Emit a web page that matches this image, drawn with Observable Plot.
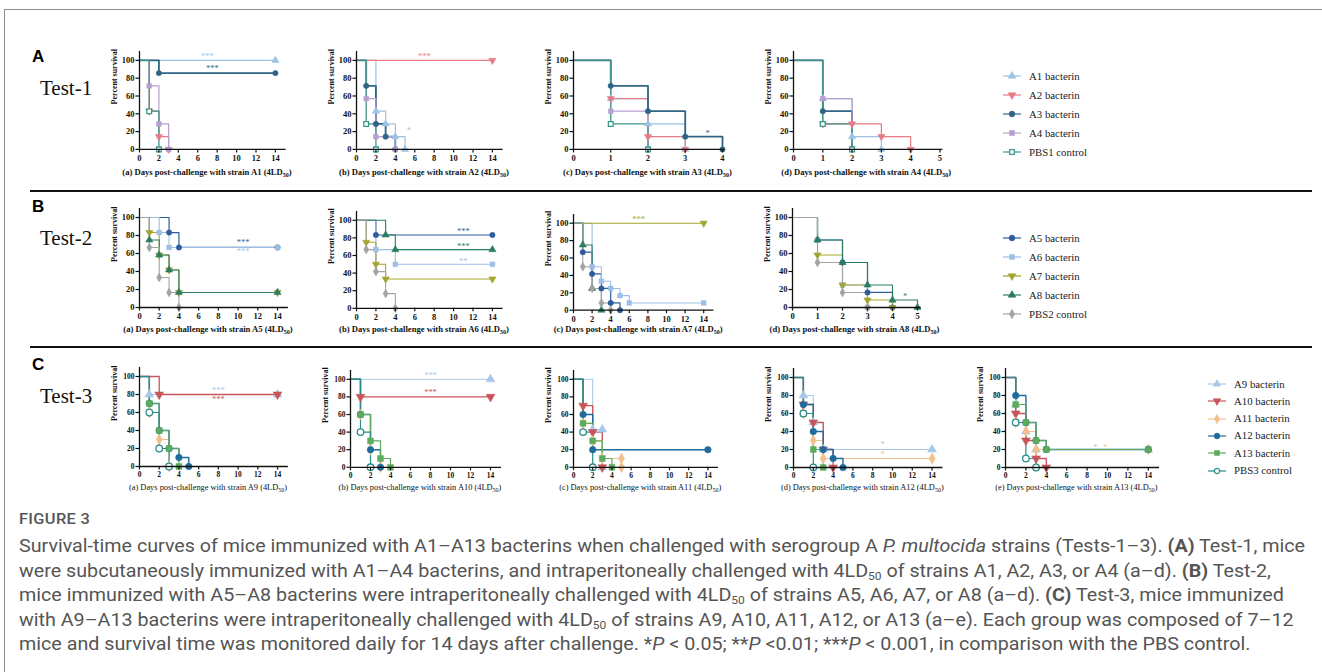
<!DOCTYPE html>
<html>
<head>
<meta charset="utf-8">
<script src="https://cdn.jsdelivr.net/npm/d3@7"></script>
<script src="https://cdn.jsdelivr.net/npm/@observablehq/plot@0.6"></script>
<style>
  html,body{margin:0;padding:0;background:#fff;}
  #fig{position:relative;width:1322px;height:672px;overflow:hidden;background:#fff;}
  .a{position:absolute;white-space:nowrap;line-height:1;}
  .cap{font-family:"Liberation Serif","Times New Roman",serif;font-weight:bold;font-size:8.6px;color:#111;transform:translateX(-50%);}
  .capc{font-weight:normal;font-size:8.4px;}
  .cap sub{font-size:6px;vertical-align:-1.5px;line-height:0;}
  .letter{font-family:"Liberation Sans",Arial,sans-serif;font-weight:bold;font-size:17px;color:#000;}
  .test{font-family:"Liberation Serif","Times New Roman",serif;font-size:21px;color:#111;}
  .leg{font-family:"Liberation Serif","Times New Roman",serif;font-size:10.8px;color:#222;display:flex;align-items:center;}
  .txt{font-family:Roboto,"Open Sans",sans-serif;color:#555;font-size:18px;transform-origin:0 0;}
  .txt sub{font-size:11px;vertical-align:-3px;line-height:0;}
</style>
</head>
<body>
<div id="fig"></div>
<script>
// ======================= DATA =======================
// Test-1 (row A)
const groups1 = ["A1 bacterin", "A2 bacterin", "A3 bacterin", "A4 bacterin", "PBS1 control"];
// each curve: [day, percent survival] points (order as groups1)
const t1a = [ // challenge strain A1
  [[0,100],[14,100]],
  [[0,100],[1,42.9],[2,14.3],[3,0]],
  [[0,100],[2,85.7],[14,85.7]],
  [[0,100],[1,71.4],[2,28.6],[3,0]],
  [[0,100],[1,42.9],[2,0]]
];
const t1b = [ // challenge strain A2
  [[0,100],[2,42.9],[3,28.6],[4,14.3],[5,0]],
  [[0,100],[14,100]],
  [[0,100],[1,71.4],[2,28.6],[3,14.3],[4,0]],
  [[0,100],[1,57.1],[2,14.3],[4,0]],
  [[0,100],[1,28.6],[2,0]]
];
const t1c = [ // challenge strain A3
  [[0,100],[1,57.1],[2,28.6],[3,0]],
  [[0,100],[1,57.1],[2,14.3],[3,0]],
  [[0,100],[1,71.4],[2,42.9],[3,14.3],[4,0]],
  [[0,100],[1,42.9],[2,0]],
  [[0,100],[1,28.6],[2,0]]
];
const t1d = [ // challenge strain A4
  [[0,100],[1,57.1],[2,14.3],[3,0]],
  [[0,100],[1,28.6],[2,28.6],[3,14.3],[4,0]],
  [[0,100],[1,42.9],[2,0]],
  [[0,100],[1,57.1],[2,0]],
  [[0,100],[1,28.6],[2,0]]
];
// significance marks: [day, percent, text, group index]
const s1a = [[7,105,"***",0],[7.5,91,"***",2]];
const s1b = [[7,105,"***",1],[5.4,21,"*",0]];
const s1c = [[3.6,18,"*",2]];
const s1d = [];
const strains1 = ["A1","A2","A3","A4"];

// Test-2 (row B)
const groups2 = ["A5 bacterin", "A6 bacterin", "A7 bacterin", "A8 bacterin", "PBS2 control"];
const t2a = [ // challenge strain A5
  [[0,100],[3,83.3],[4,66.7],[14,66.7]],
  [[0,100],[2,83.3],[3,66.7],[14,66.7]],
  [[0,100],[1,83.3],[2,58.3],[3,41.7],[4,16.7],[14,16.7]],
  [[0,100],[1,75],[2,58.3],[3,41.7],[4,16.7],[14,16.7]],
  [[0,100],[1,66.7],[2,33.3],[3,16.7],[4,0]]
];
const t2b = [ // challenge strain A6
  [[0,100],[2,83.3],[14,83.3]],
  [[0,100],[2,66.7],[4,50],[14,50]],
  [[0,100],[1,75],[2,50],[3,33.3],[14,33.3]],
  [[0,100],[3,83.3],[4,66.7],[14,66.7]],
  [[0,100],[1,66.7],[2,41.7],[3,16.7],[4,0]]
];
const t2c = [ // challenge strain A7
  [[0,100],[1,66.7],[2,41.7],[3,25],[4,8.3],[5,0]],
  [[0,100],[2,50],[3,33.3],[4,25],[5,16.7],[6,8.3],[14,8.3]],
  [[0,100],[14,100]],
  [[0,100],[1,75],[2,25],[3,0]],
  [[0,100],[1,50],[2,25],[3,8.3],[4,0]]
];
const t2d = [ // challenge strain A8
  [[0,100],[1,75],[2,50],[3,16.7],[4,0]],
  [[0,100],[1,75],[2,25],[3,0]],
  [[0,100],[1,58.3],[2,25],[3,8.3],[4,0]],
  [[0,100],[1,75],[2,50],[3,25],[4,8.3],[5,0]],
  [[0,100],[1,50],[2,16.7],[3,0]]
];
const s2a = [[10.5,72,"***",0],[10.5,62,"***",1]];
const s2b = [[11,87,"***",0],[11,71,"***",3],[11,54,"**",1]];
const s2c = [[7,104,"***",2]];
const s2d = [[4.5,13,"*",3]];
const strains2 = ["A5","A6","A7","A8"];

// Test-3 (row C)
const groups3 = ["A9 bacterin", "A10 bacterin", "A11 bacterin", "A12 bacterin", "A13 bacterin", "PBS3 control"];
const t3a = [ // challenge strain A9
  [[0,100],[1,80],[14,80]],
  [[0,100],[2,80],[14,80]],
  [[0,100],[1,60],[2,30],[3,0]],
  [[0,100],[1,70],[2,40],[3,20],[4,10],[5,0]],
  [[0,100],[1,70],[2,40],[3,20],[4,0]],
  [[0,100],[1,60],[2,20],[3,0]]
];
const t3b = [ // challenge strain A10
  [[0,100],[14,100]],
  [[0,100],[1,80],[14,80]],
  [[0,100],[1,60],[2,20],[3,0]],
  [[0,100],[1,60],[2,20],[3,0]],
  [[0,100],[1,60],[2,30],[3,10],[4,0]],
  [[0,100],[1,40],[2,0]]
];
const t3c = [ // challenge strain A11
  [[0,100],[2,42.9],[3,42.9],[3,0]],
  [[0,100],[1,70],[2,40],[3,0]],
  [[0,100],[1,50],[2,30],[3,10],[5,10],[5,0]],
  [[0,100],[1,60],[2,20],[14,20]],
  [[0,100],[1,50],[2,30],[3,10],[4,0]],
  [[0,100],[1,40],[2,0]]
];
const t3d = [ // challenge strain A12
  [[0,100],[1,80],[2,50],[3,20],[14,20]],
  [[0,100],[1,70],[2,50],[3,20],[4,0]],
  [[0,100],[1,60],[2,30],[3,10],[14,10]],
  [[0,100],[1,70],[2,40],[3,20],[4,10],[5,0]],
  [[0,100],[1,60],[2,20],[3,0]],
  [[0,100],[1,60],[2,0]]
];
const t3e = [ // challenge strain A13
  [[0,100],[1,70],[2,40],[3,20],[14,20]],
  [[0,100],[1,60],[2,30],[3,10],[4,0]],
  [[0,100],[1,50],[2,40],[3,20],[14,20]],
  [[0,100],[1,80],[2,50],[3,30],[4,20],[14,20]],
  [[0,100],[1,70],[2,50],[3,30],[4,20],[14,20]],
  [[0,100],[1,50],[2,10],[3,0]]
];
const s3a = [[8,85,"***",0],[8,75,"***",1]];
const s3b = [[8,105,"***",0],[8,85,"***",1]];
const s3c = [];
const s3d = [[9,26,"*",0],[9,15,"*",2]];
const s3e = [[8.8,23,"*",0],[9.8,23,"*",2]];
const strains3 = ["A9","A10","A11","A12","A13"];

const yTicks = [0,20,40,60,80,100];
const xTicks14 = [0,2,4,6,8,10,12,14];
const xTicks4 = [0,1,2,3,4];
const xTicks5 = [0,1,2,3,4,5];

// ======================= STYLES =======================
const triDown = {draw(ctx, size){ const y = -Math.sqrt(size/(Math.sqrt(3)*3)); ctx.moveTo(0,-y*2); ctx.lineTo(-Math.sqrt(3)*y, y); ctx.lineTo(Math.sqrt(3)*y, y); ctx.closePath(); }};
const colors1 = ["#9cc3e2","#e87a86","#2f6485","#b7a0d2","#3d988a"];
const syms1 = [d3.symbolTriangle, triDown, d3.symbolCircle, d3.symbolSquare, d3.symbolSquare];
const open1 = [false,false,false,false,true];
const lw1 = [1.2,1.2,1.8,1.2,1.3];
const colors2 = ["#2d5d9c","#9dbfe6","#a3a52e","#2b7c62","#a3a3a3"];
const syms2 = [d3.symbolCircle, d3.symbolSquare, triDown, d3.symbolTriangle, d3.symbolDiamond];
const open2 = [false,false,false,false,false];
const lw2 = [1.2,1.1,1.1,1.1,1.1];
const colors3 = ["#a8c8e8","#c8555a","#f2c08e","#1f6b9c","#5cac5c","#2a8c8c"];
const syms3 = [d3.symbolTriangle, triDown, d3.symbolDiamond, d3.symbolCircle, d3.symbolSquare, d3.symbolCircle];
const open3 = [false,false,false,false,false,true];
const lw3 = [1.1,1.3,1.1,1.4,1.2,1.2];

const fig = document.getElementById("fig");
function addDiv(cls, html, left, top, css) {
  const d = document.createElement("div");
  d.className = "a " + cls;
  d.innerHTML = html;
  d.style.left = left + "px";
  d.style.top = top + "px";
  if (css) Object.assign(d.style, css);
  fig.appendChild(d);
  return d;
}

function panel(L, V, curves, colors, syms, open, lw, stars, rSym, fontSize) {
  const k = (V.y0 - V.y100) / 100;
  const ml = 44, mr = 10, mt = 8, mb = 22;
  const plotW = L.xMax * L.ppd, plotH = 110 * k;
  const W = ml + plotW + mr, H = mt + plotH + mb;
  const marks = [];
  curves.forEach((pts, i) => {
    marks.push(Plot.line(pts.map(p => ({day: p[0], pct: p[1]})),
      {x: "day", y: "pct", curve: "step-after", stroke: colors[i], strokeWidth: lw[i]}));
  });
  curves.forEach((pts, i) => {
    marks.push(Plot.dot(pts.slice(1).map(p => ({day: p[0], pct: p[1]})),
      {x: "day", y: "pct", symbol: syms[i], r: rSym, fill: open[i] ? "white" : colors[i],
       stroke: colors[i], strokeWidth: open[i] ? 1.3 : 0.5}));
  });
  stars.forEach(s => {
    marks.push(Plot.text([s], {x: d => d[0], y: d => d[1], text: d => d[2], fill: colors[s[3]], fontSize: 8.5, fontWeight: "normal"}));
  });
  marks.push(Plot.ruleY([0], {stroke: "#111", strokeWidth: 1.3}));
  marks.push(Plot.ruleX([0], {y1: 0, y2: 110, stroke: "#111", strokeWidth: 1.3}));
  marks.push(Plot.axisY(yTicks, {tickSize: 3.5, tickPadding: 1.5, label: null, stroke: "#111", strokeWidth: 1.2}));
  marks.push(Plot.axisX(L.xTicks, {tickSize: 3.5, tickPadding: 2, label: null, stroke: "#111", strokeWidth: 1.2}));
  marks.push(Plot.text(["Percent survival"], {frameAnchor: "left", rotate: -90, dx: -25, dy: 4, text: d => d, fontSize: 8}));
  const svg = Plot.plot({
    width: W, height: H, marginLeft: ml, marginRight: mr, marginTop: mt, marginBottom: mb,
    x: {domain: [0, L.xMax]}, y: {domain: [0, 110]},
    style: {fontFamily: "'Liberation Serif','Times New Roman',serif", fontSize: fontSize + "px", fontWeight: "bold", color: "#111", background: "transparent", overflow: "visible"},
    marks
  });
  const holder = addDiv("", "", L.x0 - ml, V.y0 - plotH - mt, {width: W + "px", height: H + "px"});
  holder.appendChild(svg);
}

function legend(groups, colors, syms, open, left, top, gap) {
  groups.forEach((g, i) => {
    const path = d3.symbol().type(syms[i]).size(open[i] ? 22 : 26)();
    addDiv("leg",
      `<svg width="18" height="12" style="margin-right:8px;overflow:visible"><line x1="0" x2="18" y1="6" y2="6" stroke="${colors[i]}" stroke-width="1.2"/><path transform="translate(9,6)" d="${path}" fill="${open[i] ? '#fff' : colors[i]}" stroke="${colors[i]}" stroke-width="${open[i] ? 1.3 : 0.5}"/></svg><span>${g}</span>`,
      left, top + i * gap - 6);
  });
}

// frame (continues beyond the picture at right and bottom) and row separators
addDiv("", "", 4, 9, {width: "1340px", height: "700px", borderTop: "1.5px solid #8f8f8f", borderLeft: "1.5px solid #8f8f8f", boxSizing: "border-box"});
addDiv("", "", 30, 190, {width: "1282px", height: "2px", background: "#111"});
addDiv("", "", 30, 346, {width: "1282px", height: "2px", background: "#111"});

// row labels
addDiv("letter", "A", 32, 48);
addDiv("test", "Test-1", 40, 78);
addDiv("letter", "B", 32, 198);
addDiv("test", "Test-2", 40, 228);
addDiv("letter", "C", 32, 356);
addDiv("test", "Test-3", 40, 386);

// ---- Row A ----
const VA = {y100: 60, y0: 149};
const LA = [
  {x0: 139, ppd: 9.71, xMax: 15.1, xTicks: xTicks14},
  {x0: 356, ppd: 9.71, xMax: 15.1, xTicks: xTicks14},
  {x0: 573, ppd: 37.25, xMax: 4.05, xTicks: xTicks4},
  {x0: 793, ppd: 29.3, xMax: 5.1, xTicks: xTicks5}
];
const curvesA = [t1a, t1b, t1c, t1d], starsA = [s1a, s1b, s1c, s1d];
LA.forEach((L, j) => {
  panel(L, VA, curvesA[j], colors1, syms1, open1, lw1, starsA[j], 2.7, 8.5);
  addDiv("cap", `(${"abcd"[j]}) Days post-challenge with strain ${strains1[j]} (4LD<sub>50</sub>)`, L.x0 + (L.xTicks[L.xTicks.length-1] * L.ppd) / 2, 168);
});
legend(groups1, colors1, syms1, open1, 1003, 76, 19);

// ---- Row B ----
const VB = [{y100: 217, y0: 307}, {y100: 220, y0: 308}, {y100: 223, y0: 310}, {y100: 217, y0: 307}];
const LB = [
  {x0: 139, ppd: 9.86, xMax: 15.1, xTicks: xTicks14},
  {x0: 356, ppd: 9.71, xMax: 15.1, xTicks: xTicks14},
  {x0: 573, ppd: 9.3, xMax: 15.1, xTicks: xTicks14},
  {x0: 792, ppd: 25, xMax: 5.15, xTicks: xTicks5}
];
const curvesB = [t2a, t2b, t2c, t2d], starsB = [s2a, s2b, s2c, s2d];
LB.forEach((L, j) => {
  panel(L, VB[j], curvesB[j], colors2, syms2, open2, lw2, starsB[j], 2.7, 8.5);
  addDiv("cap", `(${"abcd"[j]}) Days post-challenge with strain ${strains2[j]} (4LD<sub>50</sub>)`, L.x0 + (L.xTicks[L.xTicks.length-1] * L.ppd) / 2, 325);
});
legend(groups2, colors2, syms2, open2, 1003, 238, 19);

// ---- Row C ----
const VC = [{y100: 376, y0: 466}, {y100: 379, y0: 467}, {y100: 379, y0: 467}, {y100: 377, y0: 467}, {y100: 377, y0: 467}];
const LC = [
  {x0: 139, ppd: 9.86, xMax: 15.1, xTicks: xTicks14},
  {x0: 350, ppd: 10, xMax: 15.1, xTicks: xTicks14},
  {x0: 573, ppd: 9.6, xMax: 15.1, xTicks: xTicks14},
  {x0: 793, ppd: 9.9, xMax: 15.1, xTicks: xTicks14},
  {x0: 1005, ppd: 10.2, xMax: 15.1, xTicks: xTicks14}
];
const curvesC = [t3a, t3b, t3c, t3d, t3e], starsC = [s3a, s3b, s3c, s3d, s3e];
LC.forEach((L, j) => {
  panel(L, VC[j], curvesC[j], colors3, syms3, open3, lw3, starsC[j], 3.3, 7.5);
  addDiv("cap capc", `(${"abcde"[j]}) Days post-challenge with strain ${strains3[j]} (4LD<sub>50</sub>)`, L.x0 + 7 * L.ppd, 484);
});
legend(groups3, colors3, syms3, open3, 1208, 384, 17.3);

// ---- Figure caption ----
const capLines = [
  "Survival-time curves of mice immunized with A1–A13 bacterins when challenged with serogroup A <i>P. multocida</i> strains (Tests-1–3). <b>(A)</b> Test-1, mice",
  "were subcutaneously immunized with A1–A4 bacterins, and intraperitoneally challenged with 4LD<sub>50</sub> of strains A1, A2, A3, or A4 (a–d). <b>(B)</b> Test-2,",
  "mice immunized with A5–A8 bacterins were intraperitoneally challenged with 4LD<sub>50</sub> of strains A5, A6, A7, or A8 (a–d). <b>(C)</b> Test-3, mice immunized",
  "with A9–A13 bacterins were intraperitoneally challenged with 4LD<sub>50</sub> of strains A9, A10, A11, A12, or A13 (a–e). Each group was composed of 7–12",
  "mice and survival time was monitored daily for 14 days after challenge. *<i>P</i> &lt; 0.05; **<i>P</i> &lt;0.01; ***<i>P</i> &lt; 0.001, in comparison with the PBS control."
];
const head = addDiv("txt", "FIGURE 3", 19, 512, {fontSize: "15px", fontWeight: "500", color: "#555", letterSpacing: "0.3px"});
const lineDivs = capLines.map((t, i) => addDiv("txt", t, 19, 537 + i * 24.5));
const w0 = lineDivs[0].getBoundingClientRect().width;
const sc = 1286 / w0;
lineDivs.forEach(d => d.style.transform = `scaleX(${sc})`);
head.style.transform = `scaleX(${sc})`;
</script>
</body>
</html>
